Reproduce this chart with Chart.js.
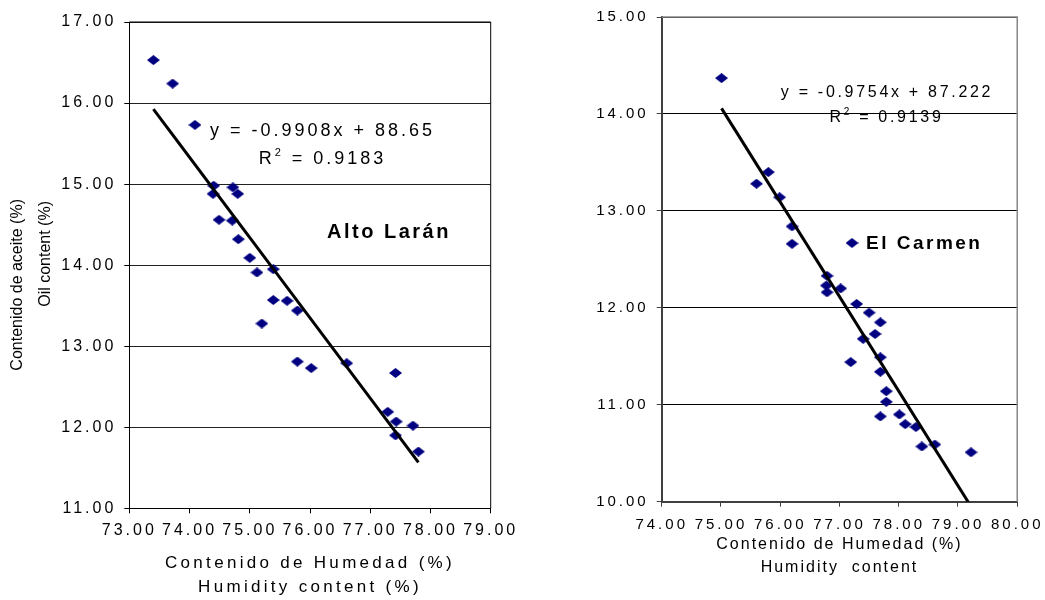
<!DOCTYPE html>
<html><head><meta charset="utf-8">
<script src="https://cdn.jsdelivr.net/npm/chart.js@4.4.1/dist/chart.umd.min.js"></script>
<style>
html,body{margin:0;padding:0;background:#fff;width:1045px;height:600px;overflow:hidden}
#c1{position:absolute;left:0;top:0}
#c2{position:absolute;left:540px;top:0}
</style></head><body>
<canvas id="c1" width="520" height="600"></canvas>
<canvas id="c2" width="505" height="600"></canvas>
<script>
const FONT = "'Liberation Sans', Arial, Helvetica, sans-serif";

// ---- Alto Larán ----
const altoHumidity = [73.40,73.72,74.09,74.40,74.39,74.72,74.80,74.49,74.71,74.81,75.00,75.12,75.39,75.39,75.62,75.20,75.79,75.79,76.02,76.61,77.42,77.29,77.43,77.71,77.42,77.80];
const altoOil      = [16.53,16.24,15.73,14.98,14.88,14.96,14.88,14.56,14.55,14.32,14.09,13.91,13.95,13.57,13.56,13.28,13.44,12.81,12.73,12.79,12.67,12.19,12.07,12.02,11.90,11.70];
const altoSlope = -0.9908, altoIntercept = 88.65, altoR2 = '0.9183';
const altoXTicks = [73,74,75,76,77,78,79];
const altoYTicks = [11,12,13,14,15,16,17];

// ---- El Carmen ----
const carmenHumidity = [75.01,75.80,75.60,75.99,76.20,76.20,76.79,76.78,76.79,77.02,77.29,77.50,77.69,77.60,77.40,77.19,77.69,77.69,77.79,77.79,77.69,78.01,78.11,78.29,78.39,78.61,79.22];
const carmenOil      = [14.37,13.40,13.28,13.14,12.84,12.66,12.33,12.23,12.16,12.20,12.04,11.95,11.85,11.73,11.68,11.44,11.49,11.34,11.14,11.03,10.88,10.90,10.80,10.77,10.57,10.59,10.51];
const carmenSlope = -0.9754, carmenIntercept = 87.222, carmenR2 = '0.9139';
const carmenXTicks = [74,75,76,77,78,79,80];
const carmenYTicks = [10,11,12,13,14,15];

function makeDiamond(w, h, color) {
  const c = document.createElement('canvas'); c.width = w; c.height = h;
  const g = c.getContext('2d'); g.fillStyle = color;
  g.beginPath(); g.moveTo(w/2, 0); g.lineTo(w, h/2); g.lineTo(w/2, h); g.lineTo(0, h/2); g.closePath(); g.fill();
  return c;
}
const diamond = makeDiamond(13, 10, '#000080');

function pts(xs, ys) { return xs.map((x, i) => ({x, y: ys[i]})); }
function trend(xs, m, b) {
  const lo = Math.min(...xs), hi = Math.max(...xs);
  return [{x: lo, y: m*lo + b}, {x: hi, y: m*hi + b}];
}

function drawRich(ctx, parts, cx, cy, ls) {
  ctx.save();
  ctx.letterSpacing = ls + 'px';
  ctx.textBaseline = 'middle'; ctx.textAlign = 'left'; ctx.fillStyle = '#000';
  let total = 0;
  parts.forEach(p => { ctx.font = p.font; p.w = ctx.measureText(p.text).width; total += p.w; });
  let x = cx - total/2;
  parts.forEach(p => { ctx.font = p.font; ctx.fillText(p.text, x, cy + (p.dy||0)); x += p.w; });
  ctx.restore();
}

const annot = {
  id: 'annot',
  beforeDraw(chart, args, opts) {
    const ls = opts.ls || {};
    Object.keys(ls).forEach(id => {
      const s = chart.scales[id];
      if (!s || s.__patched) return;
      s.__patched = true;
      const dl = s.drawLabels, dt = s.drawTitle;
      s.drawLabels = function(a) { this.ctx.save(); this.ctx.letterSpacing = ls[id].ticks + 'px'; dl.call(this, a); this.ctx.restore(); };
      s.drawTitle = function() { this.ctx.save(); this.ctx.letterSpacing = ls[id].title + 'px'; dt.call(this); this.ctx.restore(); };
    });
  },
  beforeDatasetsDraw(chart, args, opts) {
    const {ctx, chartArea: a} = chart;
    ctx.save();
    ctx.strokeStyle = opts.frameColor; ctx.lineWidth = opts.frameWidth;
    ctx.beginPath();
    ctx.moveTo(a.left, a.top); ctx.lineTo(a.right, a.top); ctx.lineTo(a.right, a.bottom);
    ctx.stroke();
    ctx.restore();
  },
  afterDatasetsDraw(chart, args, opts) {
    const ctx = chart.ctx;
    (opts.rich || []).forEach(r => drawRich(ctx, r.parts, r.x, r.y, r.ls));
    (opts.texts || []).forEach(t => {
      ctx.save();
      ctx.font = t.font; ctx.fillStyle = '#000'; ctx.letterSpacing = (t.ls || 0) + 'px';
      ctx.textBaseline = 'middle'; ctx.textAlign = t.align || 'left';
      if (t.rotate) { ctx.translate(t.x, t.y); ctx.rotate(-Math.PI/2); ctx.fillText(t.text, 0, 0); }
      else ctx.fillText(t.text, t.x, t.y);
      ctx.restore();
    });
    (opts.markers || []).forEach(m => ctx.drawImage(diamond, m.x - diamond.width/2, m.y - diamond.height/2));
  }
};

function makeChart(el, cfg) {
  return new Chart(document.getElementById(el), {
    type: 'scatter',
    data: { datasets: [
      { data: trend(cfg.xs, cfg.m, cfg.b), showLine: true, borderColor: '#000', borderWidth: 3, pointRadius: 0, order: 0 },
      { data: pts(cfg.xs, cfg.ys), pointStyle: diamond, pointRadius: 6, backgroundColor: '#000080', borderColor: '#000080', order: 1 }
    ]},
    options: {
      responsive: false, animation: false, devicePixelRatio: 1,
      layout: { padding: cfg.pad },
      plugins: { legend: { display: false }, tooltip: { enabled: false }, annot: cfg.annot },
      scales: {
        x: {
          type: 'linear', min: cfg.xTicks[0], max: cfg.xTicks[cfg.xTicks.length-1],
          afterBuildTicks: s => { s.ticks = cfg.xTicks.map(v => ({value: v})); },
          afterFit: s => { s.height = cfg.xH; },
          ticks: { callback: v => Number(v).toFixed(2), font: {family: FONT, size: cfg.tickSize}, color: '#000', padding: cfg.xPad, maxRotation: 0, autoSkip: false },
          grid: { drawOnChartArea: false, drawTicks: true, tickLength: 5, tickColor: cfg.axisColor, tickWidth: 1 },
          border: { display: true, color: cfg.axisColor, width: cfg.axisWidth },
          title: { display: true, text: cfg.xTitle, color: '#000', font: {family: FONT, size: cfg.xTitleSize, lineHeight: cfg.xTitleLH}, padding: {top: 0, bottom: cfg.xTitlePB} }
        },
        y: {
          type: 'linear', min: cfg.yTicks[0], max: cfg.yTicks[cfg.yTicks.length-1],
          afterBuildTicks: s => { s.ticks = cfg.yTicks.map(v => ({value: v})); },
          afterFit: s => { s.width = cfg.yW; },
          ticks: { callback: v => Number(v).toFixed(2), font: {family: FONT, size: cfg.tickSize}, color: '#000', padding: 8, autoSkip: false },
          grid: { drawOnChartArea: true, color: cfg.gridColor, lineWidth: 1, drawTicks: true, tickLength: 5, tickColor: cfg.axisColor },
          border: { display: true, color: cfg.axisColor, width: cfg.axisWidth }
        }
      }
    },
    plugins: [annot]
  });
}

makeChart('c1', {
  xs: altoHumidity, ys: altoOil, m: altoSlope, b: altoIntercept,
  xTicks: altoXTicks, yTicks: altoYTicks,
  pad: {top: 22, right: 29.3, bottom: 0, left: 0},
  xH: 91.7, yW: 129.3, tickSize: 16, xPad: 8,
  axisColor: '#000', axisWidth: 1, gridColor: '#222',
  xTitle: ['Contenido de Humedad (%)', 'Humidity content (%)'], xTitleSize: 17, xTitleLH: 1.41, xTitlePB: 1,
  annot: {
    frameColor: '#000', frameWidth: 1,
    ls: { x: {ticks: 3, title: 3.3}, y: {ticks: 3, title: 0} },
    rich: [
      { x: 322.5, y: 131, ls: 3, parts: [{text: 'y = -0.9908x + 88.65', font: '18px ' + FONT}] },
      { x: 322.5, y: 159, ls: 3, parts: [{text: 'R', font: '18px ' + FONT}, {text: '2', font: '11px ' + FONT, dy: -6}, {text: ' = ' + altoR2, font: '18px ' + FONT}] }
    ],
    texts: [
      { text: 'Alto Larán', x: 327, y: 232, font: 'bold 20px ' + FONT, ls: 2.5 },
      { text: 'Contenido de aceite (%)', x: 18, y: 199, font: '16px ' + FONT, rotate: true, align: 'right' },
      { text: 'Oil content (%)', x: 46, y: 201, font: '16px ' + FONT, rotate: true, align: 'right' }
    ]
  }
});

makeChart('c2', {
  xs: carmenHumidity, ys: carmenOil, m: carmenSlope, b: carmenIntercept,
  xTicks: carmenXTicks, yTicks: carmenYTicks,
  pad: {top: 12.5, right: 27.3, bottom: 0, left: 0},
  xH: 98.3, yW: 121.7, tickSize: 15, xPad: 9,
  axisColor: '#404040', axisWidth: 2, gridColor: '#000',
  xTitle: ['Contenido de Humedad (%)', 'Humidity  content'], xTitleSize: 16, xTitleLH: 1.4, xTitlePB: 21.5,
  annot: {
    frameColor: '#888', frameWidth: 1.5,
    ls: { x: {ticks: 3, title: 2}, y: {ticks: 3, title: 0} },
    rich: [
      { x: 347, y: 92.5, ls: 2.7, parts: [{text: 'y = -0.9754x + 87.222', font: '16px ' + FONT}] },
      { x: 346.5, y: 118, ls: 2.7, parts: [{text: 'R', font: '16px ' + FONT}, {text: '2', font: '10px ' + FONT, dy: -6}, {text: ' = ' + carmenR2, font: '16px ' + FONT}] }
    ],
    texts: [
      { text: 'El Carmen', x: 326, y: 244, font: 'bold 19px ' + FONT, ls: 2.5 }
    ],
    markers: [ { x: 312, y: 243 } ]
  }
});
</script>
</body></html>
